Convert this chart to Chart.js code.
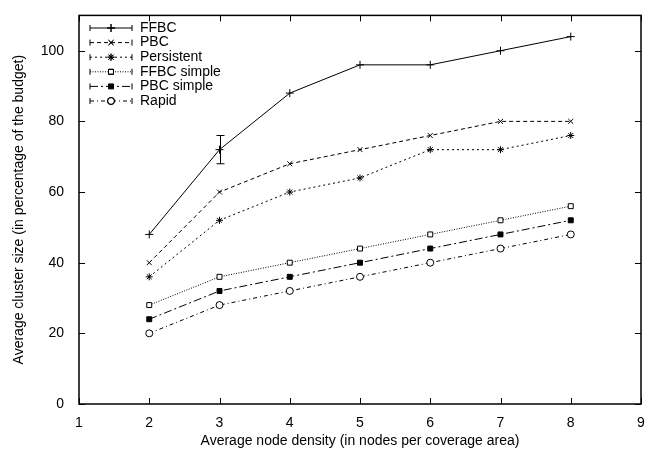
<!DOCTYPE html>
<html>
<head>
<meta charset="utf-8">
<script src="https://cdn.jsdelivr.net/npm/chart.js@4/dist/chart.umd.min.js"></script>
<style>
  html, body { margin: 0; padding: 0; background: #fff; }
  #wrap { width: 661px; height: 450px; }
</style>
</head>
<body>
<div id="wrap"><canvas id="myChart" width="661" height="450"></canvas></div>
<script>
// node density values on the x axis
const densities = [2, 3, 4, 5, 6, 7, 8];

// average cluster size (% of budget)
const ffbc = [48, 72, 88, 96, 96, 100, 104];
const pbc = [40, 60, 68, 72, 76, 80, 80];
const persistent = [36, 52, 60, 64, 72, 72, 76];
const ffbcSimple = [28, 36, 40, 44, 48, 52, 56];
const pbcSimple = [24, 32, 36, 40, 44, 48, 52];
const rapid = [20, 28, 32, 36, 40, 44, 48];

// the one error bar seen on FFBC
const errX = [3];
const errLow = [68];
const errHigh = [76];

const xTicks = [1, 2, 3, 4, 5, 6, 7, 8, 9];
const yTicks = [0, 20, 40, 60, 80, 100];

const FONT = 'Liberation Sans, Arial, sans-serif';

const series = [
    { label: 'FFBC', data: ffbc, dash: [], style: 'cross', fill: false, r: 4 },
    { label: 'PBC', data: pbc, dash: [4, 3], style: 'crossRot', fill: false, r: 3.5 },
    { label: 'Persistent', data: persistent, dash: [2, 3], style: 'star', fill: false, r: 3.5 },
    { label: 'FFBC simple', data: ffbcSimple, dash: [1, 1.5], style: 'rect', fill: false, r: 3.5 },
    { label: 'PBC simple', data: pbcSimple, dash: [8, 3, 2, 3], style: 'rect', fill: true, r: 3.5 },
    { label: 'Rapid', data: rapid, dash: [4, 3, 1, 3], style: 'circle', fill: false, r: 3.5 }
];

const toPoints = arr => arr.map((v, i) => ({ x: densities[i], y: v }));

// frame, inward ticks on all sides, error bar and legend box
const gnuplotLook = {
    id: 'gnuplotLook',
    afterDatasetsDraw(chart) {
        const { ctx, chartArea: a, scales: { x, y } } = chart;
        ctx.save();
        ctx.strokeStyle = '#000';
        ctx.lineWidth = 1;
        ctx.setLineDash([]);

        // error bar
        errX.forEach((ex, i) => {
            const px = Math.round(x.getPixelForValue(ex)) + 0.5;
            const lo = y.getPixelForValue(errLow[i]);
            const hi = y.getPixelForValue(errHigh[i]);
            ctx.beginPath();
            ctx.moveTo(px, lo); ctx.lineTo(px, hi);
            ctx.moveTo(px - 4, lo); ctx.lineTo(px + 4, lo);
            ctx.moveTo(px - 4, hi); ctx.lineTo(px + 4, hi);
            ctx.stroke();
        });

        // ticks
        const tl = 6;
        ctx.beginPath();
        xTicks.forEach(t => {
            const px = Math.round(x.getPixelForValue(t)) + 0.5;
            ctx.moveTo(px, a.bottom); ctx.lineTo(px, a.bottom - tl);
            ctx.moveTo(px, a.top); ctx.lineTo(px, a.top + tl);
        });
        yTicks.forEach(t => {
            const py = Math.round(y.getPixelForValue(t)) + 0.5;
            ctx.moveTo(a.left, py); ctx.lineTo(a.left + tl, py);
            ctx.moveTo(a.right, py); ctx.lineTo(a.right - tl, py);
        });
        ctx.stroke();

        // frame
        ctx.lineWidth = 1.5;
        ctx.strokeRect(a.left, a.top, a.right - a.left, a.bottom - a.top);

        // legend
        ctx.font = '14px ' + FONT;
        ctx.textBaseline = 'middle';
        ctx.fillStyle = '#000';
        series.forEach((s, i) => {
            const ly = 28 + i * 14.6;
            const x0 = 90, x1 = 132;
            ctx.lineWidth = 1;
            ctx.setLineDash(s.dash);
            ctx.beginPath();
            ctx.moveTo(x0, ly); ctx.lineTo(x1, ly);
            ctx.stroke();
            ctx.setLineDash([]);
            ctx.beginPath();
            ctx.moveTo(x0, ly - 3); ctx.lineTo(x0, ly + 3);
            ctx.moveTo(x1, ly - 3); ctx.lineTo(x1, ly + 3);
            ctx.stroke();
            ctx.fillStyle = s.fill ? '#000' : '#fff';
            Chart.helpers.drawPoint(ctx, { pointStyle: s.style, radius: s.r, rotation: 0, borderWidth: 1 }, 111, ly);
            if (!s.fill) ctx.stroke();
            ctx.fillStyle = '#000';
            ctx.fillText(s.label, 140, ly);
        });
        ctx.restore();
    }
};

new Chart(document.getElementById('myChart'), {
    type: 'line',
    data: {
        datasets: series.map(s => ({
            label: s.label,
            data: toPoints(s.data),
            borderColor: '#000',
            borderWidth: 1,
            borderDash: s.dash,
            pointStyle: s.style,
            pointRadius: s.r,
            pointBorderWidth: 1,
            pointBorderColor: '#000',
            pointBackgroundColor: s.fill ? '#000' : '#fff',
            fill: false,
            tension: 0
        }))
    },
    options: {
        responsive: false,
        animation: false,
        layout: { padding: { top: 10, right: 20, left: 0, bottom: 0 } },
        plugins: { legend: { display: false }, tooltip: { enabled: false } },
        scales: {
            x: {
                type: 'linear',
                min: 1, max: 9,
                afterFit: s => { s.height = 46; },
                afterBuildTicks: s => { s.ticks = xTicks.map(v => ({ value: v })); },
                grid: { display: false },
                border: { display: false },
                ticks: { color: '#000', font: { family: FONT, size: 14 }, padding: 3, maxRotation: 0 },
                title: { display: true, text: 'Average node density (in nodes per coverage area)', color: '#000', font: { family: FONT, size: 14 }, padding: { top: 1, bottom: 0 } }
            },
            y: {
                min: 0, max: 110,
                afterFit: s => { s.width = 79; },
                afterBuildTicks: s => { s.ticks = yTicks.map(v => ({ value: v })); },
                grid: { display: false },
                border: { display: false },
                ticks: { color: '#000', font: { family: FONT, size: 14 }, padding: 7 },
                title: { display: true, text: 'Average cluster size (in percentage of the budget)', color: '#000', font: { family: FONT, size: 14 }, padding: { top: 11, bottom: 4 } }
            }
        }
    },
    plugins: [gnuplotLook]
});
</script>
</body>
</html>
